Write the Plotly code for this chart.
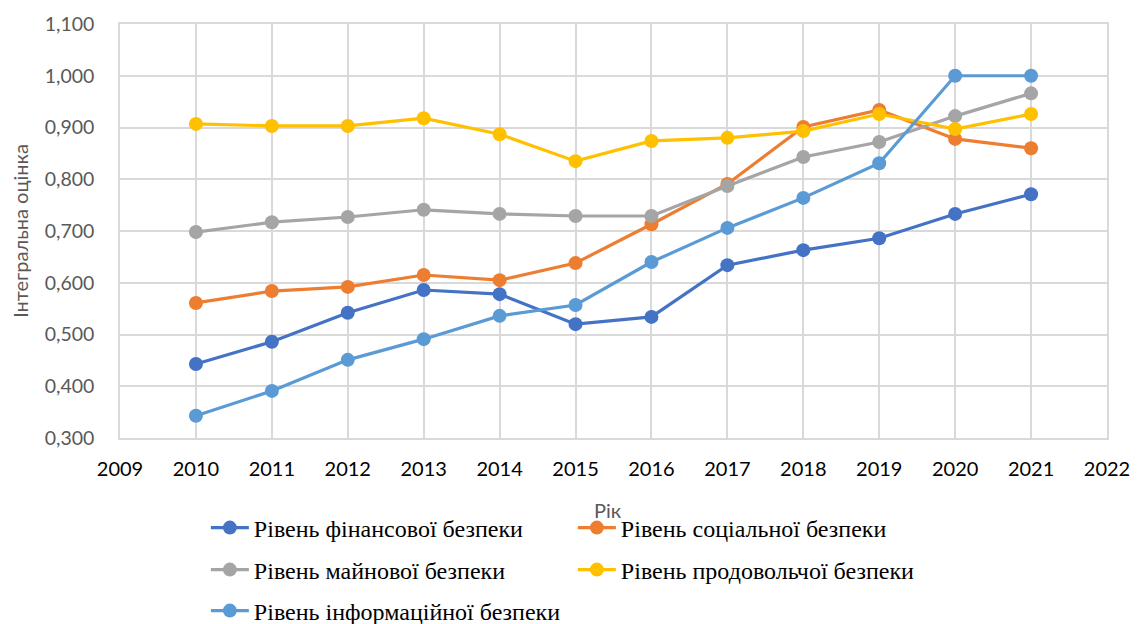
import plotly.graph_objects as go

years = [2010, 2011, 2012, 2013, 2014, 2015, 2016, 2017, 2018, 2019, 2020, 2021]
finance = [0.443, 0.486, 0.542, 0.586, 0.578, 0.520, 0.534, 0.634, 0.663, 0.686, 0.733, 0.771]
social = [0.561, 0.584, 0.592, 0.615, 0.605, 0.638, 0.713, 0.791, 0.901, 0.934, 0.878, 0.860]
property_ = [0.698, 0.717, 0.727, 0.741, 0.733, 0.729, 0.729, 0.787, 0.843, 0.872, 0.922, 0.966]
food = [0.907, 0.903, 0.903, 0.918, 0.887, 0.835, 0.874, 0.880, 0.893, 0.926, 0.897, 0.926]
info = [0.343, 0.391, 0.451, 0.491, 0.536, 0.557, 0.640, 0.706, 0.764, 0.831, 1.000, 1.000]

series = [
    ("Рівень фінансової безпеки", finance, "#4472C4", "legend"),
    ("Рівень соціальної безпеки", social, "#ED7D31", "legend"),
    ("Рівень майнової безпеки", property_, "#A5A5A5", "legend2"),
    ("Рівень продовольчої безпеки", food, "#FFC000", "legend2"),
    ("Рівень інформаційної безпеки", info, "#5B9BD5", "legend3"),
]

fig = go.Figure()
for name, vals, col, leg in series:
    fig.add_trace(go.Scatter(
        x=years, y=vals, name=name, mode="lines+markers",
        line=dict(color=col, width=3.2),
        marker=dict(color=col, size=14),
        legend=leg,
    ))

grid = "#D9D9D9"
legfont = dict(family="Liberation Serif", size=24, color="#000000")
W, H = 1138, 616  # page body has an 8px margin


def leg(yc):
    return dict(
        orientation="h", x=0.087, xanchor="left", yref="container", y=1 - yc / H, yanchor="middle",
        entrywidth=314, entrywidthmode="pixels", font=legfont, itemwidth=38,
        bgcolor="rgba(0,0,0,0)",
    )


fig.update_layout(
    width=W, height=H,
    margin=dict(l=112, r=39, t=16, b=186, autoexpand=False),
    paper_bgcolor="white", plot_bgcolor="white",
    separators=", ",
    font=dict(family="Lato", color="#595959"),
    xaxis=dict(
        range=[2009, 2022], dtick=1, tick0=2009, automargin=False,
        showgrid=True, gridcolor=grid, gridwidth=1.5,
        showline=True, linecolor=grid, linewidth=1.5, mirror=True,
        zeroline=False, ticks="", ticklabelstandoff=12,
        tickfont=dict(size=20, color="#000000"),
    ),
    yaxis=dict(
        range=[0.3, 1.1], dtick=0.1, tick0=0.3, tickformat=".3f", automargin=False,
        showgrid=True, gridcolor=grid, gridwidth=1.5,
        showline=True, linecolor=grid, linewidth=1.5, mirror=True,
        zeroline=False, ticks="", ticklabelstandoff=20,
        tickfont=dict(size=19.5, color="#595959"),
        title=dict(text="Інтегральна оцінка", font=dict(size=20, color="#595959"), standoff=14),
    ),
    annotations=[dict(
        text="Рік", xref="paper", yref="paper", x=0.494, y=-0.174,
        xanchor="center", yanchor="middle", showarrow=False,
        font=dict(size=20, color="#595959"),
    )],
    legend=leg(520),
    legend2=leg(562),
    legend3=leg(603),
)

fig.write_html("out.html")
